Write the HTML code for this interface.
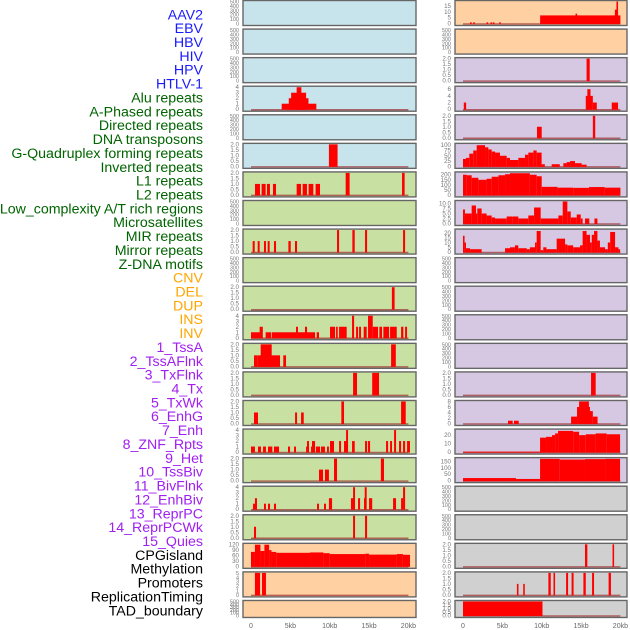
<!DOCTYPE html>
<html><head><meta charset="utf-8">
<style>
html,body{margin:0;padding:0;background:#fff;}
svg{display:block;font-family:"Liberation Sans",sans-serif;}
</style></head>
<body>
<svg id="chart" width="630" height="630" viewBox="0 0 630 630" xmlns="http://www.w3.org/2000/svg">
<g id="labels"></g>
<g id="panels"></g>
<g id="xaxes"></g>
</svg>
<script>
// ---- data ----
const trackLabels = ["AAV2","EBV","HBV","HIV","HPV","HTLV-1","Alu repeats","A-Phased repeats","Directed repeats","DNA transposons","G-Quadruplex forming repeats","Inverted repeats","L1 repeats","L2 repeats","Low_complexity A/T rich regions","Microsatellites","MIR repeats","Mirror repeats","Z-DNA motifs","CNV","DEL","DUP","INS","INV","1_TssA","2_TssAFlnk","3_TxFlnk","4_Tx","5_TxWk","6_EnhG","7_Enh","8_ZNF_Rpts","9_Het","10_TssBiv","11_BivFlnk","12_EnhBiv","13_ReprPC","14_ReprPCWk","15_Quies","CPGisland","Methylation","Promoters","ReplicationTiming","TAD_boundary"];
const labelGroups = ["v","v","v","v","v","v","r","r","r","r","r","r","r","r","r","r","r","r","r","c","c","c","c","c","h","h","h","h","h","h","h","h","h","h","h","h","h","h","h","o","o","o","o","o"];
const xTicks = [0,5,10,15,20];
const xTickLabels = ["0","5kb","10kb","15kb","20kb"];

const ticks500 = [0,100,200,300,400,500];
const ticks2 = [0,0.5,1,1.5,2];
const ticks4 = [0,1,2,3,4];

// segments: [startKb, endKb, value]
const L3 = [[3.9,8.3,1],[4.8,7.3,2],[5.1,7.0,3],[5.8,6.4,4]];
const L5 = [[9.9,11.0,2]];
const L6 = [[0.51,1.14,1],[1.35,1.86,1],[2.03,2.41,1],[2.79,3.18,1],[5.8,6.35,1],[6.56,7.11,1],[7.32,7.92,1],[8.21,8.77,1],[12.03,12.53,2],[19.19,19.52,2]];
const L8 = [[0.21,0.47,1],[0.85,1.1,1],[1.65,1.9,1],[2.12,2.37,1],[2.92,3.18,1],[4.75,5.05,1],[5.59,5.85,1],[10.93,11.19,2],[12.88,13.18,2],[14.49,14.75,2],[19.32,19.58,2]];
const L10 = [[17.9,18.25,2]];
const L11 = [[0,1.25,1],[1.1,1.5,2],[1.86,2.54,1],[2.63,5.72,1],[5.72,5.97,2],[5.97,8.14,1],[6.86,7.12,2],[8.35,8.64,1],[10.04,10.68,2],[10.81,11.02,2],[11.19,12.16,2],[12.84,13.1,4],[13.35,13.6,2],[13.73,13.98,2],[14.32,14.7,2],[14.87,15.47,4],[15.47,16.14,2],[16.31,16.65,2],[16.82,17.54,2],[17.67,18.52,2],[19.07,19.36,2],[19.58,19.83,2]];
const L12 = [[0.38,0.8,1],[0.8,3.69,1],[1.23,2.63,2],[4.1,4.45,1],[17.8,18.4,2]];
const L13 = [[12.97,13.47,2],[15.4,16.27,2]];
const L14 = [[0.38,0.89,1],[5.6,5.85,1],[6.36,6.7,1],[11.48,11.82,2],[19.07,19.66,2]];
const L15 = [[0,0.5,1],[0.89,1.27,1],[1.53,1.9,1],[2.16,2.71,1],[2.92,3.56,1],[4.7,4.96,1],[5.47,5.72,1],[7.0,7.25,1],[7.12,7.37,2],[7.63,8.14,1],[7.75,8.14,2],[8.26,8.77,1],[8.9,9.4,1],[9.66,9.9,1],[10.04,10.55,2],[11.19,11.44,2],[11.82,12.33,2],[12.08,12.33,4],[12.84,13.18,2],[14.49,14.75,2],[14.87,15.13,2],[17.16,17.42,2],[17.67,17.92,2],[18.18,18.43,4],[18.81,19.07,2],[19.32,19.58,2],[19.83,20.2,2]];
const L16 = [[8.64,9.15,1],[9.4,9.9,1],[10.55,10.93,2],[16.5,16.9,2]];
const L17 = [[0.25,0.76,1],[0.5,0.76,2],[1.65,1.9,1],[2.16,2.42,1],[2.92,3.18,1],[8.39,8.64,1],[9.28,9.53,1],[9.9,10.3,2],[12.7,13.2,2],[12.97,13.22,4],[13.6,13.86,2],[14.36,14.6,2],[14.45,14.7,4],[15.0,15.4,2],[18.05,18.43,2],[19.07,19.32,2],[19.32,19.58,4]];
const L18 = [[0.38,0.64,1],[12.97,13.22,2],[14.49,14.75,2]];
const L19 = [[0,0.5,80],[0.5,1.2,120],[1.2,1.7,85],[1.7,2.3,120],[2.3,2.6,90],[2.6,3.2,80],[3.2,7.5,75],[7.5,9.2,77],[9.2,10,73],[10,14.5,68],[14.5,15,70],[15,18.5,65],[18.5,19.3,68],[19.3,20.2,64]];
const L20 = [[0.5,1.15,5],[1.4,1.9,5]];

const R0 = [[0.9,1.1,1],[1.3,1.5,1],[3.0,3.2,1],[3.5,3.7,1],[3.8,4.0,1],[4.6,4.8,1],[9.8,20,7],[14.3,14.5,8.5],[19.3,19.6,12],[19.5,19.7,19]];
const R2 = [[15.7,16.1,2]];
const R3 = [[0.1,0.4,2],[15.6,16.5,4],[15.8,16.2,6],[16.5,17.0,2],[18.9,19.7,2]];
const R4 = [[9.4,10.0,1],[16.5,16.8,2]];
const R5 = [[0,0.38,35],[0.38,0.8,40],[0.8,1.3,60],[1.3,1.74,75],[1.74,2.8,100],[2.8,3.22,90],[3.22,3.64,80],[3.64,4.07,70],[4.07,4.7,65],[4.7,5.55,50],[5.55,5.97,40],[5.97,7.03,30],[7.03,7.88,40],[7.88,8.3,55],[8.3,8.94,65],[8.94,9.36,75],[9.36,9.99,65],[9.99,10.4,10],[11.27,12.3,10],[12.75,13.17,15],[13.17,13.6,20],[13.6,14.23,25],[14.23,15.08,15],[15.08,15.7,8]];
const R6 = [[0,0.47,200],[0.47,1.1,195],[1.1,1.95,170],[1.95,3.0,150],[3.0,3.64,160],[3.64,4.5,180],[4.5,5.34,195],[5.34,5.97,205],[5.97,8.5,215],[8.5,9.36,200],[9.36,10.0,185],[10,12,80],[12,14,72],[14,16,70],[16,18,78],[18,20,72]];
const R7 = [[0,0.25,7],[0.25,1.1,5],[1.1,1.65,9],[1.65,1.82,5],[1.82,2.37,7.5],[2.37,3.0,5],[3.0,3.64,4],[3.64,4.07,3],[4.07,5.55,2.5],[5.55,6.31,3.5],[6.31,7.03,3.5],[7.03,8.3,2.5],[8.3,9.03,4],[9.03,9.87,8],[9.87,12.12,2.5],[12.12,12.67,4],[12.67,13.26,11],[13.26,13.69,6],[13.69,14.45,3],[14.45,14.96,4.5],[14.96,15.2,2.5],[15.5,16.05,2.5],[16.7,17.08,2.5]];
const R8 = [[0,0.2,17],[0.2,0.38,10],[0.38,0.9,4],[0.9,2.37,3],[5.34,5.97,4],[5.97,6.6,5],[6.6,7.03,7],[7.03,8.1,4],[8.1,8.5,3],[8.5,9.15,5],[9.15,9.36,10],[9.36,9.87,22],[9.87,10.2,2],[10.2,10.6,5],[10.6,11.9,3],[11.9,12.97,14],[12.97,13.26,8],[13.26,14.0,7],[14.0,14.87,5],[14.87,15.2,7],[15.2,15.7,22],[15.7,16.14,18],[16.14,16.36,10],[16.36,16.65,18],[16.65,17.08,22],[17.08,17.4,12],[17.4,18.05,5],[18.05,18.4,3],[18.4,18.7,10],[18.7,19.32,21],[19.32,19.75,5],[19.75,19.96,3]];
const R13 = [[16.27,16.86,2]];
const R14 = [[5.72,6.31,1],[6.48,7.08,1],[13.73,14.49,2.5],[14.49,14.87,6],[14.75,16.0,8],[15.5,16.14,6],[16.14,16.5,4.5],[16.5,17.1,2.5]];
const R15 = [[0,9.79,0.5],[9.79,10.55,17],[10.55,11.31,18],[11.31,11.7,20],[11.7,12.08,22],[12.08,14.0,25],[14.0,14.75,24],[14.75,15.6,20],[15.6,16.85,21],[16.85,18.25,22],[18.25,19.96,21]];
const R16 = [[0,5.97,20],[5.97,6.74,20],[6.74,9.79,13],[9.79,12.3,170],[12.3,15.5,165],[15.5,18.05,168],[18.05,19.96,170]];
const R19 = [[15.5,15.8,2],[19.0,19.2,2]];
const R20 = [[6.85,7.05,1],[7.65,7.85,1],[10.85,11.15,2],[11.5,11.7,2],[13.1,13.35,2],[13.8,14.05,2],[15.3,15.6,2],[16.4,16.65,2],[18.5,18.8,2]];
const R21 = [[0,10.1,2]];

// ---- config ----
const C = {blue:"#c7e3ec", green:"#c8e0a2", peach:"#ffd1a2", purple:"#d6c7e2", grey:"#d0d0d0"};
const rows = [
 [["blue",500,ticks500,null],["peach",19,[0,5,10,15],R0]],
 [["blue",500,ticks500,null],["peach",500,ticks500,null]],
 [["blue",500,ticks500,null],["purple",2,ticks2,R2]],
 [["blue",4,ticks4,L3],["purple",6.6,[0,2,4,6],R3]],
 [["blue",500,ticks500,null],["purple",2,ticks2,R4]],
 [["blue",2,ticks2,L5],["purple",104,[0,25,50,75,100],R5]],
 [["green",2,ticks2,L6],["purple",218,[0,50,100,150,200],R6]],
 [["green",500,ticks500,null],["purple",11,[0,2.5,5,7.5,10],R7]],
 [["green",2,ticks2,L8],["purple",23,[0,5,10,15,20],R8]],
 [["green",500,ticks500,null],["purple",500,ticks500,null]],
 [["green",2,ticks2,L10],["purple",500,ticks500,null]],
 [["green",4,ticks4,L11],["purple",500,ticks500,null]],
 [["green",2,ticks2,L12],["purple",500,ticks500,null]],
 [["green",2,ticks2,L13],["purple",2,ticks2,R13]],
 [["green",2,ticks2,L14],["purple",8,[0,2,4,6,8],R14]],
 [["green",4,ticks4,L15],["purple",26,[0,10,20],R15]],
 [["green",2,ticks2,L16],["purple",172,[0,50,100,150],R16]],
 [["green",4,ticks4,L17],["grey",500,ticks500,null]],
 [["green",2,ticks2,L18],["grey",500,ticks500,null]],
 [["peach",122,[0,30,60,90,120],L19],["grey",2,ticks2,R19]],
 [["peach",5,[0,1,2,3,4,5],L20],["grey",2,ticks2,R20]],
 [["peach",500,ticks500,null],["grey",2,ticks2,R21]]
];
const NS="http://www.w3.org/2000/svg";
function mk(tag,attrs,parent){const e=document.createElementNS(NS,tag);for(const k in attrs)e.setAttribute(k,attrs[k]);parent.appendChild(e);return e;}
const sides=[{x:243,w:173,x0:251,tickX:239},{x:455,w:172,x0:463,tickX:451}];
const pxPerKb=7.87;
function fmt(v,ticks){const dec=ticks.some(t=>t%1!==0);return dec?v.toFixed(1):String(v);}

// labels
const lg=document.getElementById('labels');
const colors={v:"#1a1aff",r:"#006400",c:"#ffa500",h:"#a020f0",o:"#000"};
trackLabels.forEach((t,i)=>{
  const e=mk('text',{x:203,y:(19.3+i*13.86).toFixed(1),'text-anchor':'end','font-size':'14.2',fill:colors[labelGroups[i]]},lg);
  e.textContent=t;
  
  
});

// panels
const pg=document.getElementById('panels');
rows.forEach((row,ri)=>{
  const top=ri*28.57+0.5;
  const h=ri===21?17:25;
  row.forEach((p,si)=>{
    const s=sides[si];
    const [bg,max,ticks,segs]=p;
    const g=mk('g',{},pg);
    
    
    mk('rect',{x:s.x,y:top,width:s.w,height:h,fill:C[bg]},g);
    const y0=top+h-2, span=h-3;
    const yv=v=>y0-v/max*span;
    const xk=k=>s.x0+k*pxPerKb;
    if(segs){
      const bl=mk('line',{x1:xk(0),x2:xk(20),y1:y0+0.5,y2:y0+0.5,stroke:"#a0302f",'stroke-width':1.5,opacity:0.7},g);
      
      
      segs.forEach(sg=>{
        const v=Math.min(sg[2],max);
        const r=mk('rect',{x:xk(sg[0]).toFixed(2),y:yv(v).toFixed(2),width:Math.max(1.2,(sg[1]-sg[0])*pxPerKb).toFixed(2),height:(y0-yv(v)+0.5).toFixed(2),fill:"#ff0000"},g);
        
        
      });
    }
    mk('rect',{x:s.x,y:top,width:s.w,height:h,fill:"none",stroke:"#666",'stroke-width':1.4},g);
    const fs = ticks.length>5 ? 5.5 : 6.2;
    ticks.forEach(t=>{
      const tt=mk('text',{x:s.tickX,y:(yv(t)+2).toFixed(1),'text-anchor':'end','font-size':fs,fill:"#777"},g);
      tt.textContent=fmt(t,ticks);
      
      
    });
  });
});

// x axes
const xg=document.getElementById('xaxes');
sides.forEach(s=>{
  xTicks.forEach((k,i)=>{
    const t=mk('text',{x:s.x0+k*pxPerKb,y:628,'text-anchor':'middle','font-size':7,fill:"#666"},xg);
    t.textContent=xTickLabels[i];
    
    
  });
});
</script>
</body></html>
